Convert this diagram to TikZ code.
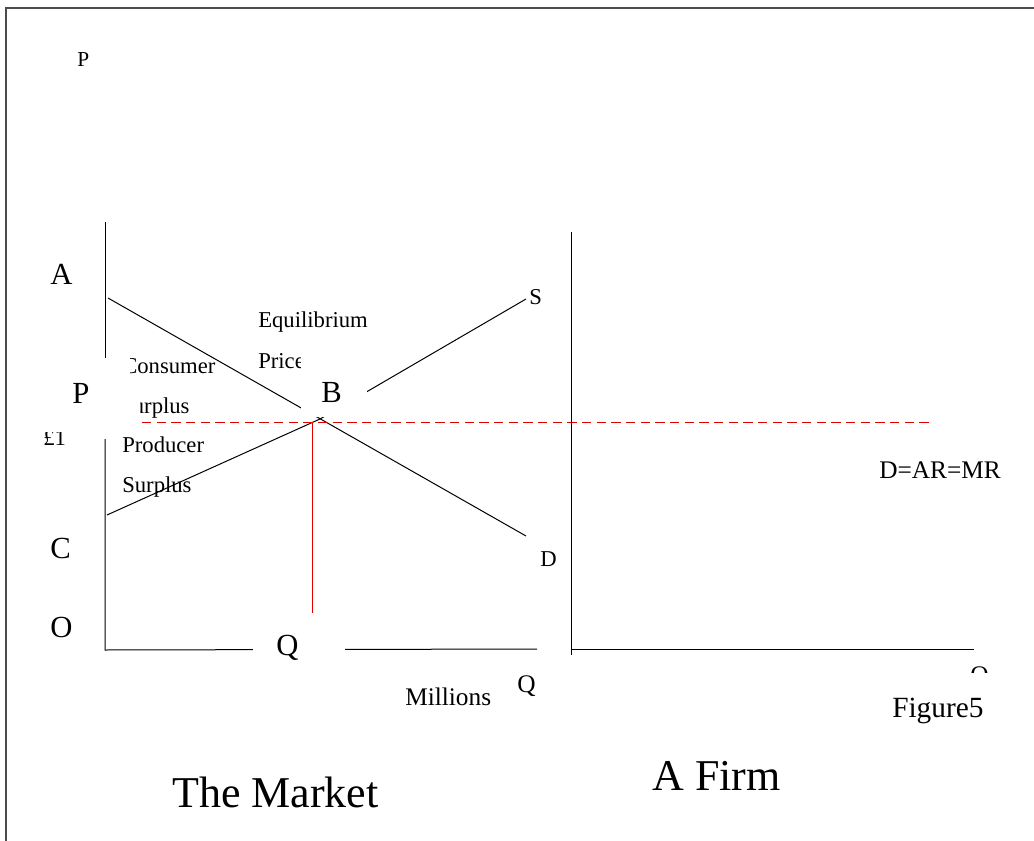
\documentclass[tikz,border=0pt]{standalone}
\usepackage{fontspec}
\setmainfont{Liberation Serif}
\begin{document}
\begin{tikzpicture}[x = 0.75pt, y = -0.75pt,
        lbl/.style = {inner sep = 0pt, anchor = base west},
        big/.style = {lbl, font = \fontsize{23}{27}\selectfont},
        small/.style = {lbl, font = \fontsize{17}{20}\selectfont},
        mid/.style = {lbl, font = \fontsize{19}{22}\selectfont},
        title/.style = {lbl, font = \fontsize{33}{38}\selectfont},
        curve/.style = {black, line width = 0.75pt},
        eqline/.style = {red!90!black, line width = 0.75pt},
        blank/.style = {white}]
        \useasboundingbox (0, 0) rectangle (1034, 841);
        \draw[gray!60!black, line width = 1.5pt] (6, 850) -- (6, 8) -- (1040, 8);
        % the market
        \coordinate (A) at (108, 298);
        \coordinate (D) at (526, 536);
        \coordinate (C) at (107, 515);
        \coordinate (E) at (320, 419);
        \coordinate (S) at (526, 299);
        \draw[curve] (105, 222) -- (105, 358);
        \draw[curve] (105, 439) -- (105, 650) -- (537, 649);
        \draw[curve] (A) -- (D);
        \draw[curve] (C) -- (E) -- (S);
        \draw[eqline] (312, 423) -- (312, 613);
        \draw[eqline, dash pattern = on 7pt off 4pt] (142, 422) -- (933, 422);
        % a firm
        \draw[curve] (571, 232) -- (571, 655);
        \draw[curve] (571, 649) -- (974, 649);
        % labels under the boxes
        \node[small] (cons) at (122, 373) {Consumer};
        \node[small] (surp) at (120, 413) {Surplus};
        \node[small] (pound) at (43, 445) {£1};
        \node[small] (price) at (258, 368) {Price};
        \node[mid] (qfirm) at (970, 683) {Q};
        % white boxes
        \fill[blank] (40, 358) rectangle (130, 392);
        \fill[blank] (40, 392) rectangle (140, 432);
        \fill[blank] (301, 355) rectangle (367, 416.5);
        \fill[blank] (253, 625) rectangle (345, 670);
        \fill[blank] (880, 673) rectangle (1000, 725);
        % labels
        \node[lbl, font = \fontsize{16}{19}\selectfont] (ptop) at (77, 67) {P};
        \node[big] (la) at (50, 285) {A};
        \node[big] (lp) at (72, 403) {P};
        \node[big] (lc) at (50, 558) {C};
        \node[big] (lo) at (50, 637) {O};
        \node[big] (lb) at (321, 402) {B};
        \node[big] (lq) at (276, 655) {Q};
        \node[small] (equi) at (258, 327) {Equilibrium};
        \node[small] (prod) at (122, 452) {Producer};
        \node[small] (surp2) at (122, 492) {Surplus};
        \node[small] (ls) at (529, 305) {S};
        \node[small] (ld) at (540, 566) {D};
        \node[mid] (mill) at (405, 705) {Millions};
        \node[mid] (qmkt) at (517, 692) {Q};
        \node[mid] (dar) at (879, 478) {D=AR=MR};
        \node[lbl, font = \fontsize{22}{26}\selectfont] (fig) at (892, 717) {Figure5};
        \node[title] (market) at (172, 807) {The Market};
        \node[title] (firm) at (652, 790) {A Firm};
    \end{tikzpicture}
\end{document}
